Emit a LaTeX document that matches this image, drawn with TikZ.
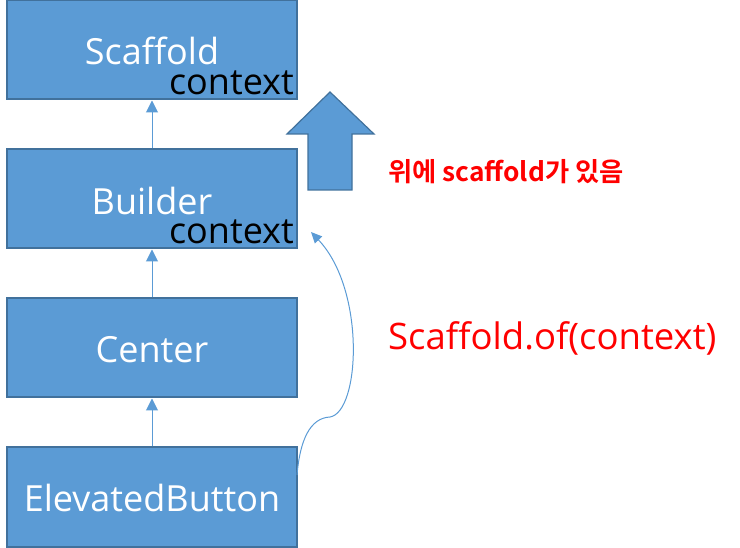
\documentclass[tikz,border=0pt]{standalone}
\usepackage{fontspec}
\setmainfont{Open Sans}
\newfontfamily\krfont{Noto Sans CJK KR Bold}
\usetikzlibrary{arrows.meta}
\definecolor{boxfill}{HTML}{5B9BD5}
\definecolor{boxline}{HTML}{41719C}
\definecolor{redtxt}{HTML}{FF0000}
\tikzset{
  wbox/.style={draw=boxline, fill=boxfill, line width=2pt, minimum width=290pt, minimum height=99pt, inner sep=0pt},
  wlabel/.style={text=white, font=\fontsize{36}{36}\selectfont},
  ctx/.style={text=black, font=\fontsize{36}{36}\selectfont, anchor=base east, inner sep=0pt},
  link/.style={draw=boxfill, line width=1pt, -{Triangle[width=12pt,length=12pt]}},
  curvelink/.style={draw=boxfill, line width=1pt, -{Triangle[width=10pt,length=11pt]}},
  bigarrow/.style={draw=boxline, fill=boxfill, line width=1.2pt}
}
\begin{document}
\begin{tikzpicture}[x=1pt,y=-1pt]
\useasboundingbox (0,0) rectangle (740,548);
\node[wbox] (sc) at (152,50) {};
\node[wbox] (bu) at (152,199) {};
\node[wbox] (ce) at (152,348) {};
\node[wbox] (eb) at (152,497) {};
\node[wlabel] (scl) at (152,51) {Scaffold};
\node[ctx] (scc) at (294,95) {context};
\node[wlabel] (bul) at (152,201) {Builder};
\node[ctx] (buc) at (294,244) {context};
\node[wlabel] (cel) at (152,350) {Center};
\node[wlabel] (ebl) at (152,498) {ElevatedButton};
\draw[link] (bu.north) -- (sc.south);
\draw[link] (ce.north) -- (bu.south);
\draw[link] (eb.north) -- (ce.south);
% big up arrow
\draw[bigarrow] (308,190) -- (308,134) -- (287,134) -- (330,92) -- (374,134) -- (352,134) -- (352,190) -- cycle;
\node[text=redtxt, font=\krfont\fontsize{26.3}{26.3}\selectfont, anchor=west, inner sep=0pt] (kr) at (388,172) {위에 scaffold가 있음};
\node[text=redtxt, font=\fontsize{36.5}{36.5}\selectfont, anchor=west, inner sep=0pt] (of) at (388,338) {Scaffold.of(context)};
\coordinate (cs) at (297,475);
\coordinate (cm) at (330,417);
\coordinate (ct) at (311,232);
\draw[curvelink] (cs) .. controls (300,440) and (310,418) .. (cm) .. controls (360,412) and (366,290) .. (ct);
\end{tikzpicture}
\end{document}
